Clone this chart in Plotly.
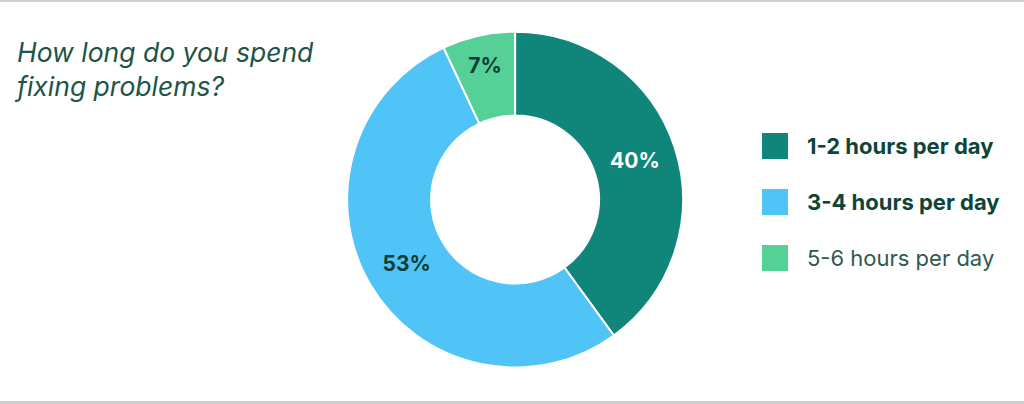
import plotly.graph_objects as go

# survey answers
categories = ["1-2 hours per day", "3-4 hours per day", "5-6 hours per day"]
shares = [40, 53, 7]
slice_colors = ["#10857a", "#50c3f7", "#55d198"]
label_colors = ["#ffffff", "#0e3d33", "#0e3d33"]
bold_legend = [True, True, False]

title = "How long do you spend<br>fixing problems?"
font = "Inter, Roboto, 'Open Sans', sans-serif"
dark = "#0e4537"

fig = go.Figure()

fig.add_trace(go.Pie(
    labels=categories,
    values=shares,
    hole=0.5,
    sort=False,
    direction="clockwise",
    rotation=0,
    marker=dict(colors=slice_colors, line=dict(color="white", width=2)),
    texttemplate="<b>%{value}%</b>",
    textposition="inside",
    insidetextorientation="horizontal",
    textfont=dict(family=font, size=21, color=label_colors),
    domain=dict(x=[0.339, 0.667], y=[0.090, 0.922]),
    showlegend=False,
    hoverinfo="label+percent",
))

# hand-made legend so the swatches and spacing match
shapes = []
annotations = []
for i, (name, col, bold) in enumerate(zip(categories, slice_colors, bold_legend)):
    yc = 1 - (146 + 56 * i) / 404
    shapes.append(dict(
        type="rect", xref="paper", yref="paper",
        x0=762 / 1024, x1=788 / 1024,
        y0=yc - 13 / 404, y1=yc + 13 / 404,
        fillcolor=col, line=dict(width=0),
    ))
    annotations.append(dict(
        xref="paper", yref="paper", x=805 / 1024, y=yc,
        xanchor="left", yanchor="middle", showarrow=False,
        text=f"<b>{name}</b>" if bold else name,
        font=dict(family=font, size=22, color=dark if bold else "#2f5a4f"),
    ))

# card borders top and bottom
shapes.append(dict(type="rect", xref="paper", yref="paper", x0=0, x1=1,
                   y0=1 - 2 / 404, y1=1, fillcolor="#cfcfcf", line=dict(width=0)))
shapes.append(dict(type="rect", xref="paper", yref="paper", x0=0, x1=1,
                   y0=0, y1=3 / 404, fillcolor="#cfcfcf", line=dict(width=0)))

annotations.append(dict(
    xref="paper", yref="paper", x=12 / 1024, y=1 - 34 / 404,
    xanchor="left", yanchor="top", align="left", showarrow=False,
    text=f"<i>{title}</i>",
    font=dict(family=font, size=26.5, color="#1d5446"),
))

fig.update_layout(
    width=1024, height=404,
    margin=dict(l=0, r=0, t=0, b=0),
    paper_bgcolor="white",
    plot_bgcolor="white",
    shapes=shapes,
    annotations=annotations,
)

# drop the page's default body margin so the figure sits at 0,0
fig.write_html("out.html", config={"displayModeBar": False},
               post_script="document.body.style.margin='0';")
